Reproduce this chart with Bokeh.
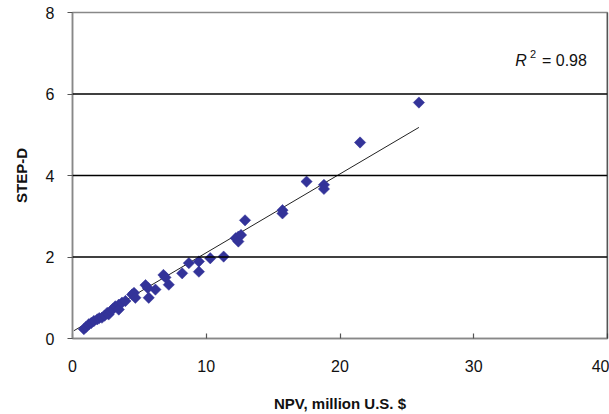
import math
from bokeh.plotting import figure
from bokeh.models import Range1d, FixedTicker, Span, Label
from bokeh.embed import file_html
from bokeh.resources import INLINE

# NPV (million U.S. $) vs STEP-D
npv = [0.85, 1.0, 1.22, 1.4, 1.6, 1.85, 2.0, 2.2, 2.4, 2.6, 2.7, 2.85, 3.0, 3.2, 3.46, 3.46,
       3.7, 3.96, 4.46, 4.6, 4.7, 5.46, 5.63, 5.7, 6.2, 6.8, 6.95, 7.2, 8.2, 8.7, 9.45, 9.45,
       10.3, 11.3, 12.2, 12.4, 12.4, 12.6, 12.9, 15.7, 15.7, 17.5, 18.8, 18.8, 21.5, 25.9]
step_d = [0.23, 0.28, 0.35, 0.38, 0.43, 0.47, 0.50, 0.51, 0.56, 0.63, 0.59, 0.67, 0.72, 0.79, 0.83, 0.71,
          0.88, 0.92, 1.08, 1.12, 1.00, 1.31, 1.24, 1.00, 1.20, 1.56, 1.50, 1.32, 1.60, 1.85, 1.89, 1.64,
          1.97, 2.01, 2.46, 2.50, 2.38, 2.54, 2.90, 3.15, 3.07, 3.85, 3.77, 3.67, 4.81, 5.79]

trend_x = [0.1, 25.9]
trend_y = [0.19, 5.18]

x_ticks = [0, 10, 20, 30, 40]
y_ticks = [0, 2, 4, 6, 8]
grid_levels = [2, 4, 6]
r2_text = "0.98"

FONT = "Liberation Sans"

p = figure(width=609, height=414, output_backend="svg", toolbar_location=None,
           x_range=Range1d(0, 40), y_range=Range1d(0, 8),
           min_border_left=72, min_border_right=2, min_border_top=12, min_border_bottom=73)

p.xgrid.visible = False
p.ygrid.visible = False
p.outline_line_color = "#888888"
p.outline_line_width = 1.5
p.background_fill_color = "white"
p.border_fill_color = "white"

for g in grid_levels:
    p.add_layout(Span(location=g, dimension="width", line_color="#000000", line_width=1.6))

p.add_layout(Span(location=40, dimension="height", line_color="#222222", line_width=1.5))

# axes
p.xaxis.ticker = FixedTicker(ticks=x_ticks)
p.yaxis.ticker = FixedTicker(ticks=y_ticks)
for ax in (p.xaxis[0], p.yaxis[0]):
    ax.axis_line_color = "#888888"
    ax.axis_line_width = 1.5
    ax.major_tick_line_color = "#555555"
    ax.major_tick_line_width = 1.2
    ax.minor_tick_line_color = None
    ax.major_label_text_font = FONT
    ax.major_label_text_font_size = "16px"
    ax.major_label_text_color = "#111111"
    ax.axis_label_text_font = FONT
    ax.axis_label_text_font_size = "15px"
    ax.axis_label_text_font_style = "bold"
    ax.axis_label_text_color = "#111111"

p.xaxis.major_tick_in = 5
p.xaxis.major_tick_out = 0
p.yaxis.major_tick_in = 0
p.yaxis.major_tick_out = 5
p.xaxis.major_label_standoff = 21
p.yaxis.major_label_standoff = 13
p.xaxis.axis_label = "NPV, million U.S. $"
p.yaxis.axis_label = "STEP-D"
p.xaxis.axis_label_standoff = 20
p.yaxis.axis_label_standoff = 13

# trend line
p.line(trend_x, trend_y, line_color="#222222", line_width=1)

# points
p.scatter(npv, step_d, marker="square", size=8, angle=math.pi / 4,
          fill_color="#333399", line_color="#333399", line_width=0.5)

# R^2 annotation
p.add_layout(Label(x=33.1, y=6.81, text="R", text_font=FONT, text_font_size="16px",
                   text_font_style="italic", text_baseline="middle", text_color="#111111"))
p.add_layout(Label(x=34.2, y=6.97, text="2", text_font=FONT, text_font_size="11px",
                   text_baseline="middle", text_color="#111111"))
p.add_layout(Label(x=35.1, y=6.81, text="= " + r2_text, text_font=FONT, text_font_size="16px",
                   text_baseline="middle", text_color="#111111"))

open("out.html", "w").write(file_html(p, INLINE))
